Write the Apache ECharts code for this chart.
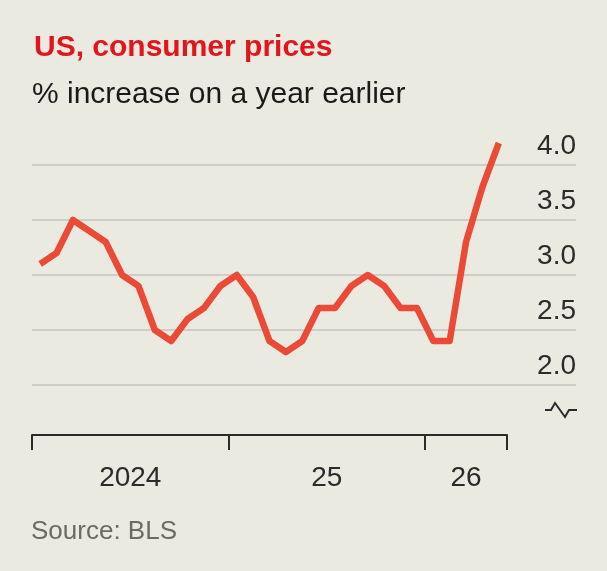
<!DOCTYPE html>
<html>
<head>
<meta charset="utf-8">
<script src="https://cdn.jsdelivr.net/npm/echarts@6/dist/echarts.min.js"></script>
<style>
  html, body { margin: 0; padding: 0; background: #ebeae1; }
  #chart { width: 607px; height: 571px; }
</style>
</head>
<body>
<div id="chart"></div>
<script>
// monthly CPI, Jan 2024 - May 2026
const values2024 = [3.1, 3.2, 3.5, 3.4, 3.3, 3.0, 2.9, 2.5, 2.4, 2.6, 2.7, 2.9];
const values2025 = [3.0, 2.8, 2.4, 2.3, 2.4, 2.7, 2.7, 2.9, 3.0, 2.9, 2.7, 2.7];
const values2026 = [2.4, 2.4, 3.3, 3.8, 4.2];
const yearLabels = ['2024', '25', '26'];
const yearLabelPos = [6, 18, 26.5];
const yearTicks = [0, 12, 24, 29];

const allValues = values2024.concat(values2025, values2026);
const lineData = allValues.map((v, i) => [i + 0.5, v]);

const font = 'Liberation Sans, Arial, sans-serif';
const chart = echarts.init(document.getElementById('chart'));

chart.setOption({
  backgroundColor: '#ebeae1',
  animation: false,
  title: [
    {
      text: 'US, consumer prices',
      left: 29, top: 28,
      textStyle: { color: '#e2141c', fontSize: 30, fontWeight: 'bold', fontFamily: font }
    },
    {
      text: '% increase on a year earlier',
      left: 27, top: 75,
      textStyle: { color: '#1a1a1a', fontSize: 30, fontWeight: 'normal', fontFamily: font }
    },
    {
      text: 'Source: BLS',
      left: 26, top: 514,
      textStyle: { color: '#6b6b66', fontSize: 26, fontWeight: 'normal', fontFamily: font }
    }
  ],
  grid: [
    { left: 32, right: 100, top: 165, height: 220 },
    { left: 32, right: 31, top: 165, height: 220 }
  ],
  xAxis: [
    {
      gridIndex: 0, type: 'value', min: 0, max: 29,
      offset: 50,
      axisLine: { show: true, lineStyle: { color: '#2b2b2b', width: 2 } },
      axisTick: { show: true, customValues: yearTicks, length: 15, lineStyle: { color: '#2b2b2b', width: 2 } },
      axisLabel: {
        customValues: yearLabelPos,
        formatter: v => yearLabels[yearLabelPos.indexOf(v)] || '',
        color: '#2b2b2b', fontSize: 28, fontFamily: font, margin: 29
      },
      splitLine: { show: false }
    },
    { gridIndex: 1, type: 'value', min: 0, max: 1, show: false }
  ],
  yAxis: [
    { gridIndex: 0, type: 'value', min: 2, max: 4, show: false },
    {
      gridIndex: 1, type: 'value', position: 'right',
      min: 2, max: 4, interval: 0.5,
      axisLine: { show: false },
      axisTick: { show: false },
      axisLabel: {
        inside: true, margin: 0,
        verticalAlign: 'bottom', padding: [0, 0, 5, 0],
        formatter: v => v.toFixed(1),
        color: '#2b2b2b', fontSize: 28, fontFamily: font
      },
      splitLine: { show: true, lineStyle: { color: '#c6c5bc', width: 1.5 } }
    }
  ],
  graphic: [
    {
      type: 'polyline',
      shape: { points: [[545, 410], [551, 410], [555, 403], [565, 417], [569, 410], [577, 410]] },
      style: { stroke: '#2b2b2b', lineWidth: 2, fill: null }
    }
  ],
  series: [
    {
      type: 'line',
      xAxisIndex: 0, yAxisIndex: 0,
      data: lineData,
      symbol: 'none',
      clip: false,
      lineStyle: { color: '#ea4a36', width: 6.5, join: 'round', cap: 'butt' },
      z: 5
    }
  ]
});
</script>
</body>
</html>
